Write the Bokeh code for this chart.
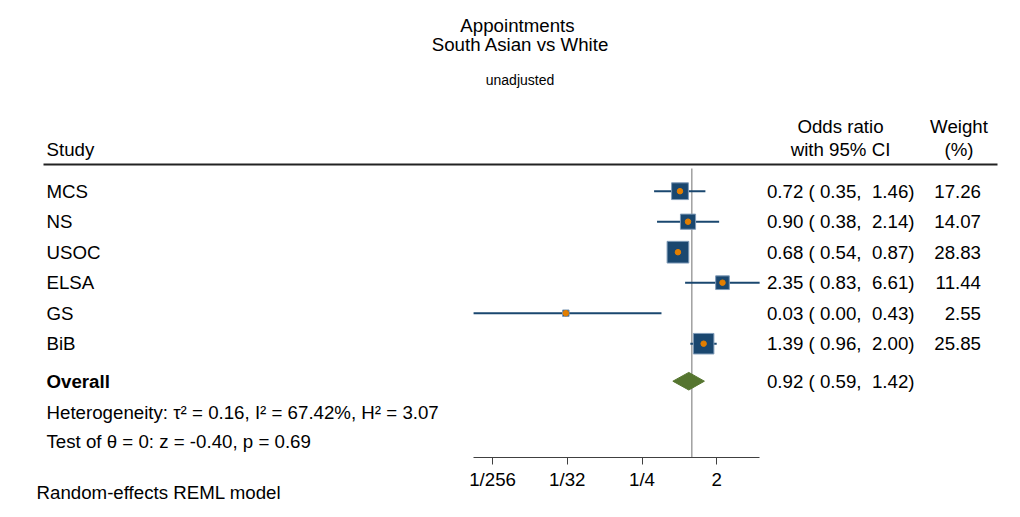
import numpy as np
from bokeh.plotting import figure
from bokeh.models import Range1d, FixedTicker, Title
from bokeh.core.properties import value
from bokeh.embed import file_html
from bokeh.resources import INLINE

# ---------------- data ----------------
studies = ["MCS", "NS", "USOC", "ELSA", "GS", "BiB"]
odds_ratio = [0.72, 0.90, 0.68, 2.35, 0.03, 1.39]
ci_lower = [0.35, 0.38, 0.54, 0.83, 0.0023, 0.96]
ci_upper = [1.46, 2.14, 0.87, 6.61, 0.43, 2.00]
weights = [17.26, 14.07, 28.83, 11.44, 2.55, 25.85]
overall_label = "Overall"
overall = [0.92, 0.59, 1.42]          # estimate, lower, upper
tick_values = [1 / 256, 1 / 32, 1 / 4, 2]
tick_labels = ["1/256", "1/32", "1/4", "2"]
title_lines = ["Appointments", "South Asian vs White"]
subtitle = "unadjusted"
header_study = "Study"
header_or = ["Odds ratio", "with 95% CI"]
header_w = ["Weight", "(%)"]
heterogeneity = "Heterogeneity: \u03c4\u00b2 = 0.16, I\u00b2 = 67.42%, H\u00b2 = 3.07"
test_text = "Test of \u03b8 = 0: z = -0.40, p = 0.69"
footnote = "Random-effects REML model"

# ---------------- layout / style ----------------
W, H = 1004, 501
AXIS_Y = 457                           # frame bottom (axis line)
NULL_PX, PX_PER_LOG2 = 691.3, 24.9     # pixel x of OR = 1, px per doubling


def dx(px):
    """pixel x -> data x on the log scale"""
    return 2 ** ((px - NULL_PX) / PX_PER_LOG2)


NAVY = "#1a476f"
ORANGE = "#e37e00"
GREEN = "#55752f"
FONT = value("Liberation Sans")
FS = "18.7px"

row0, row_step = 190.7, 30.5
ys = [row0 + row_step * i for i in range(len(studies))]
y_overall = 380.7
y_het = 411.5
y_test = 441.3

p = figure(width=W, height=H, x_axis_type="log",
           x_range=Range1d(dx(0), dx(W)), y_range=Range1d(AXIS_Y, 0),
           output_backend="svg", toolbar_location=None, title=None,
           min_border=0, min_border_bottom=H - AXIS_Y, y_axis_location=None)
p.grid.visible = False
p.outline_line_color = None
p.background_fill_color = "white"
p.border_fill_color = "white"

# null line
p.segment(x0=[1], y0=[168], x1=[1], y1=[AXIS_Y], line_color="#a0a0a0", line_width=1.5)
# header rule
p.segment(x0=[dx(43)], y0=[164], x1=[dx(997)], y1=[164], line_color="#222222", line_width=1.8)

# CIs
p.segment(x0=ci_lower, y0=ys, x1=ci_upper, y1=ys, line_color=NAVY, line_width=2)
# weight squares
sizes = [4.04 * np.sqrt(w) for w in weights]
p.scatter(odds_ratio, ys, marker="square", size=sizes, fill_color=NAVY,
          line_color="#7f9bb8", line_width=1)
p.scatter(odds_ratio, ys, marker="circle", size=5.5, fill_color=ORANGE, line_color=ORANGE)

# overall diamond
est, lo, hi = overall
hh = 8.8
p.patch(x=[lo, est, hi, est], y=[y_overall, y_overall - hh, y_overall, y_overall + hh],
        fill_color=GREEN, line_color=GREEN)


# ---------- texts ----------
def txt(x, y, t, align="left", size=FS, style="normal"):
    p.text(x=x, y=y, text=t, text_font=FONT, text_font_size=size,
           text_align=align, text_baseline="middle", text_color="black",
           text_font_style=style)


txt([dx(517)], [24.7], [title_lines[0]], "center")
txt([dx(520)], [44.3], [title_lines[1]], "center")
txt([dx(519.5)], [79.2], [subtitle], "center", size="14px")

txt([dx(46)], [149], [header_study])
txt([dx(840)] * 2, [126, 149], header_or, "center")
txt([dx(958.5)] * 2, [126, 149], header_w, "center")

txt([dx(46)] * len(studies), ys, studies)

NB = "\u00a0"
ci_text = [f"{o:.2f} ({l:5.2f}, {h:5.2f})".replace(" ", NB)
           for o, l, h in zip(odds_ratio, ci_lower, ci_upper)]
txt([dx(914)] * len(studies), ys, ci_text, "right")
txt([dx(980.5)] * len(studies), ys, [f"{w:.2f}" for w in weights], "right")

txt([dx(46)], [y_overall], [overall_label], style="bold")
txt([dx(914)], [y_overall], [f"{est:.2f} ({lo:5.2f}, {hi:5.2f})".replace(" ", NB)], "right")
txt([dx(46)], [y_het], [heterogeneity])
txt([dx(46)], [y_test], [test_text])

# ---------- axis ----------
ax = p.xaxis[0]
ax.ticker = FixedTicker(ticks=tick_values)
ax.major_label_overrides = {v: l for v, l in zip(tick_values, tick_labels)}
ax.bounds = (min(ci_lower), max(ci_upper))
ax.axis_line_color = "#404040"
ax.major_tick_line_color = "#404040"
ax.major_tick_out = 7
ax.major_tick_in = 0
ax.minor_tick_line_color = None
ax.major_label_text_font = "Liberation Sans"
ax.major_label_text_font_size = FS
ax.major_label_text_color = "black"
ax.major_label_standoff = 4

# footnote as a bottom title, tucked up beside the tick labels
p.add_layout(Title(text=footnote, align="left", offset=36, standoff=-22,
                   vertical_align="top", text_font="Liberation Sans",
                   text_font_size=FS, text_font_style="normal",
                   text_color="black"), "below")

open("out.html", "w").write(file_html(p, INLINE))
